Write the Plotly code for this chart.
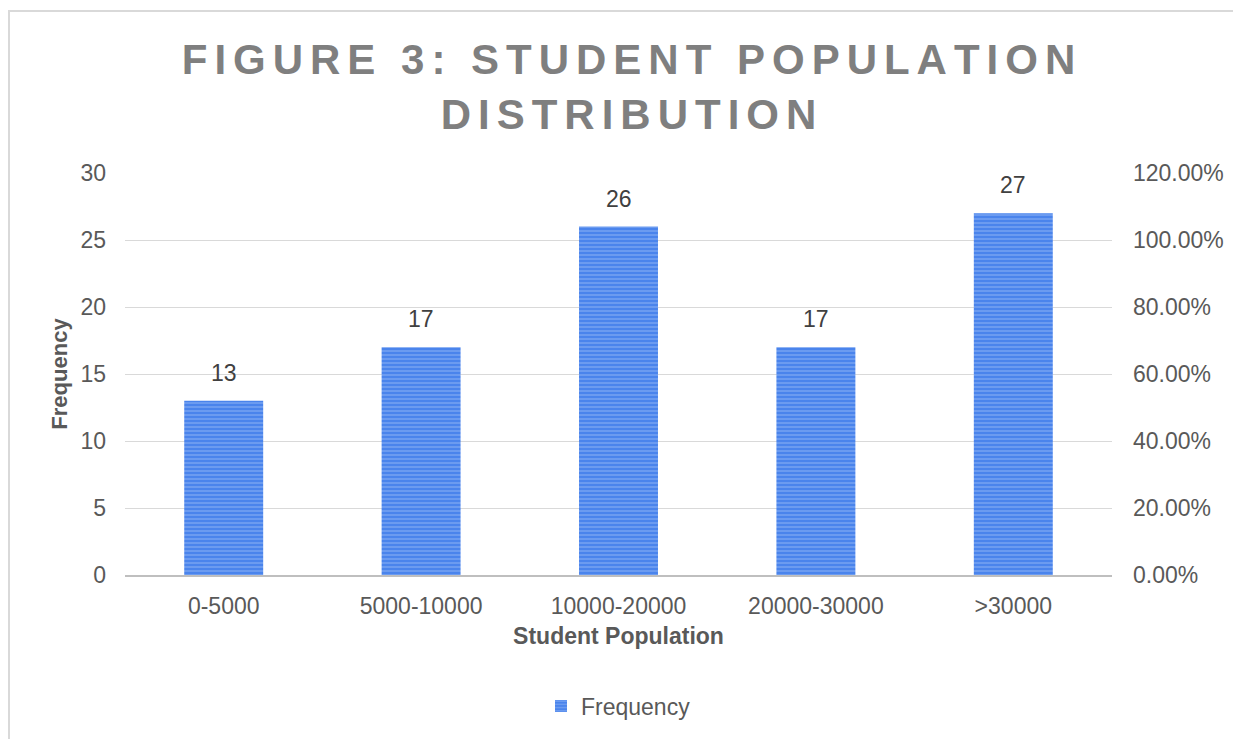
import plotly.graph_objects as go

categories = ["0-5000", "5000-10000", "10000-20000", "20000-30000", ">30000"]
frequency = [13, 17, 26, 17, 27]
y_ticks = [0, 5, 10, 15, 20, 25, 30]
y2_ticks = [0, 0.2, 0.4, 0.6, 0.8, 1.0, 1.2]

# page body has an 8px margin, so figure coords = screenshot coords - 8
OFF = 8
W, H = 1241, 739
L = 125 - OFF
T = 173 - OFF
PR = 1112 - OFF
PB = 575 - OFF
R, B = W - PR, H - PB
pw, ph = PR - L, PB - T

def px_to_paper_x(x):
    return (x - OFF - L) / pw

def px_to_paper_y(y):
    return (PB - (y - OFF)) / ph

FONT = "Liberation Sans, Arial"
sp = "\u2006"
def spaced(s):
    return sp.join(list(s))

title_text = spaced("FIGURE 3: STUDENT POPULATION") + "<br>" + spaced("DISTRIBUTION")

fig = go.Figure()
fig.add_trace(go.Bar(
    x=categories, y=frequency, name="Frequency",
    marker=dict(color="#5b8ff0", line=dict(width=0),
                pattern=dict(shape="-", fgcolor="#a9c6f7", bgcolor="#4a84ec",
                             size=4, solidity=0.35)),
))
fig.add_trace(go.Scatter(
    x=categories, y=[0] * len(categories), yaxis="y2", mode="markers",
    marker=dict(opacity=0), showlegend=False, hoverinfo="skip",
))

annotations = [
    dict(x=c, y=v, xref="x", yref="y", text=str(v), showarrow=False,
         yanchor="bottom", yshift=13, font=dict(size=23, color="#404040", family=FONT))
    for c, v in zip(categories, frequency)
]

fig.update_layout(
    width=W, height=H,
    margin=dict(l=L, r=R, t=T, b=B),
    paper_bgcolor="white", plot_bgcolor="white",
    font=dict(family=FONT, color="#595959", size=23),
    title=dict(text=title_text, x=0.5, xanchor="center", y=1 - 66 / H, yanchor="middle",
               font=dict(size=42, color="#7f7f7f", family=FONT, weight="bold")),
    bargap=0.6,
    showlegend=True,
    legend=dict(orientation="h", x=0.5, xanchor="center", y=px_to_paper_y(706), yanchor="middle",
                font=dict(size=23, color="#595959"), itemwidth=30),
    xaxis=dict(
        showgrid=False, showline=True, linecolor="#bfbfbf", linewidth=2,
        ticks="", tickfont=dict(size=23, color="#595959"), ticklabelstandoff=9,
        title=dict(text="<b>Student Population</b>", font=dict(size=23, color="#595959"), standoff=10),
    ),
    yaxis=dict(
        range=[0, 30], tickvals=y_ticks, showgrid=True, gridcolor="#d9d9d9", gridwidth=1,
        zeroline=False, showline=False, ticks="", tickfont=dict(size=23, color="#595959"),
        ticklabelstandoff=18,
        title=dict(text="<b>Frequency</b>", font=dict(size=22, color="#595959"), standoff=6),
    ),
    yaxis2=dict(
        range=[0, 1.2], tickvals=y2_ticks, tickformat=".2%", overlaying="y", side="right",
        showgrid=False, zeroline=False, showline=False, ticks="",
        tickfont=dict(size=23, color="#595959"), ticklabelstandoff=20,
    ),
    annotations=annotations,
    shapes=[dict(type="rect", xref="paper", yref="paper",
                 x0=px_to_paper_x(9), x1=px_to_paper_x(1260),
                 y0=px_to_paper_y(760), y1=px_to_paper_y(11),
                 line=dict(color="#d9d9d9", width=2), fillcolor="rgba(0,0,0,0)", layer="below")],
)

fig.write_html("out.html")
